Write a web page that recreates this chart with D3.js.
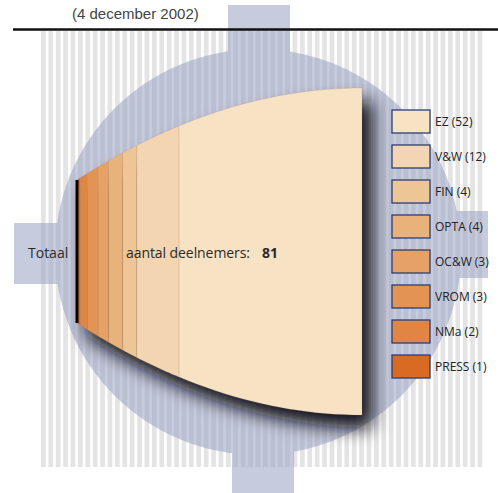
<!DOCTYPE html>
<html><head><meta charset="utf-8">
<script src="https://cdn.jsdelivr.net/npm/d3@7"></script>
<style>html,body{margin:0;padding:0;background:#fff;}svg{display:block;}</style>
</head><body>
<svg id="chart" width="498" height="493"></svg>
<script>
// ---- data ----
const categories = ["EZ", "V&W", "FIN", "OPTA", "OC&W", "VROM", "NMa", "PRESS"];
const values = [52, 12, 4, 4, 3, 3, 2, 1];
const colors = ["#f8e2c4", "#f3d5b1", "#eec594", "#eab27b", "#e6a266", "#e39455", "#e08645", "#d96a24"];
const title = "(4 december 2002)";
const totalLabel = "Totaal";
const centerLabel = "aantal deelnemers:";

const svg = d3.select("#chart");
const total = d3.sum(values);

// scales
const x = d3.scaleLinear().domain([0, total]).range([77, 362]);
const cy = 251.5;
const hMin = 71.5, hMax = 163.5;
const half = v => hMax - (hMax - hMin) * Math.pow(1 - v / total, 2);

// background stripes
const stripeG = svg.append("g");
stripeG.selectAll("rect").data(d3.range(41, 480, 7.4)).join("rect")
  .attr("x", d => d).attr("y", 31).attr("width", 4.7).attr("height", 436)
  .attr("fill", "#e4e4e4");

// gear shape
const gear = svg.append("g").attr("opacity", 0.55).attr("fill", "#9aa2c4");
gear.append("circle").attr("cx", 258).attr("cy", 252).attr("r", 203);
gear.append("rect").attr("x", 228).attr("y", 5).attr("width", 62).attr("height", 60);
gear.append("rect").attr("x", 232).attr("y", 440).attr("width", 62).attr("height", 53);
gear.append("rect").attr("x", 14).attr("y", 223).attr("width", 60).attr("height", 61);
gear.append("rect").attr("x", 440).attr("y", 211).attr("width", 48).attr("height", 67);

// title + rule
svg.append("line").attr("x1", 13).attr("x2", 498).attr("y1", 29.5).attr("y2", 29.5)
  .attr("stroke", "#111").attr("stroke-width", 2.5);
svg.append("text").attr("x", 72).attr("y", 19).text(title)
  .attr("font-family", "'Liberation Sans Narrow','Arial Narrow',sans-serif")
  .attr("font-size", 15).attr("fill", "#444");

// fan
const defs = svg.append("defs");
const f = defs.append("filter").attr("id", "sh").attr("x", "-30%").attr("y", "-30%").attr("width", "160%").attr("height", "160%");
f.append("feGaussianBlur").attr("stdDeviation", 9);

const area = d3.area()
  .x(d => x(d))
  .y0(d => cy + half(d))
  .y1(d => cy - half(d));

const sample = (a, b) => d3.range(0, 21).map(i => a + (b - a) * i / 20);

svg.append("path").datum(sample(0, total))
  .attr("d", area)
  .attr("transform", "translate(10,13)")
  .attr("fill", "#0c0c14").attr("opacity", 1)
  .attr("filter", "url(#sh)");

// segments from left: reversed order
const order = d3.range(categories.length).reverse();
let acc = 0;
const segs = order.map(i => { const s = {i, v0: acc, v1: acc + values[i]}; acc += values[i]; return s; });

svg.append("g").selectAll("path").data(segs).join("path")
  .attr("d", s => area(sample(s.v0, s.v1)))
  .attr("fill", s => colors[s.i])
  .attr("stroke", "#b8926a").attr("stroke-opacity", 0.35).attr("stroke-width", 0.6);

svg.append("line").attr("x1", x(0)).attr("x2", x(0))
  .attr("y1", cy - half(0)).attr("y2", cy + half(0))
  .attr("stroke", "#000").attr("stroke-width", 3);

// labels
svg.append("text").attr("x", 28).attr("y", 258).text(totalLabel)
  .attr("font-family", "'Open Sans',sans-serif").attr("font-size", 14).attr("fill", "#2a2a2a");
svg.append("text").attr("x", 126).attr("y", 258).text(centerLabel)
  .attr("font-family", "'Open Sans',sans-serif").attr("font-size", 14).attr("fill", "#2a2a2a")
  .attr("textLength", 124);
svg.append("text").attr("x", 262).attr("y", 258).text(total)
  .attr("font-family", "'Open Sans',sans-serif").attr("font-size", 14).attr("font-weight", "bold").attr("fill", "#2a2a2a");

// legend
const lg = svg.append("g");
const rows = lg.selectAll("g").data(categories).join("g")
  .attr("transform", (d, i) => `translate(392,${110 + i * 35})`);
rows.append("rect").attr("width", 38).attr("height", 23)
  .attr("fill", (d, i) => colors[i]).attr("stroke", "#2c3e74").attr("stroke-width", 1.3);
rows.append("text").attr("x", 43).attr("y", 16)
  .text((d, i) => `${d} (${values[i]})`)
  .attr("font-family", "'Open Sans',sans-serif").attr("font-size", 12).attr("fill", "#222");
</script>
</body></html>
